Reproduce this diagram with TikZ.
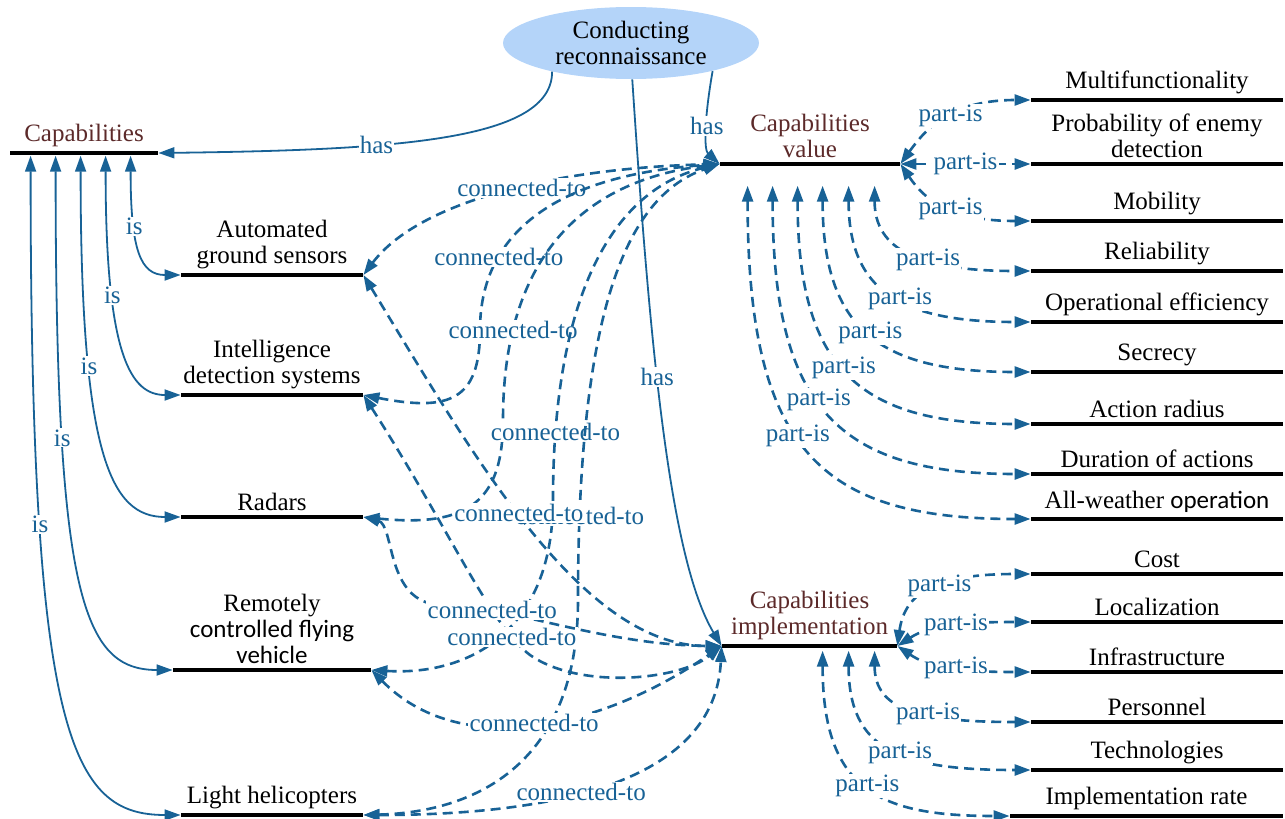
\documentclass[tikz,border=0pt]{standalone}
\usepackage{fontspec}
\usetikzlibrary{arrows.meta}
\usetikzlibrary{shapes.geometric}
\newcommand\serifface{\fontspec{Liberation Serif}}
\newcommand\calface{\fontspec{Carlito}}
\definecolor{linkblue}{RGB}{24,98,150}
\definecolor{capbrown}{RGB}{92,42,42}
\definecolor{ellfill}{RGB}{180,212,249}
\tikzset{%
    itembar/.style={inner sep=0pt,rectangle,fill=black,minimum height=2.3pt,minimum width=#1},
    txt/.style={align=center,inner sep=1.5pt,font=\serifface\fontsize{12.5}{13}\selectfont},
    lbl/.style={fill=white,inner sep=0.6pt,text=linkblue,font=\serifface\fontsize{12.5}{13}\selectfont}
}

\begin{document}
\begin{tikzpicture}[
                x=0.5pt,y=-0.5pt,
                hasarr/.style={linkblue,line width=0.9pt,-{Triangle[length=8pt,width=5.5pt]}},
                isarr/.style={linkblue,line width=0.9pt,{Triangle[length=8pt,width=5.5pt]}-{Triangle[length=8pt,width=5.5pt]}},
                ctarr/.style={linkblue,line width=1.3pt,dash pattern=on 5pt off 3pt,{Triangle[length=8pt,width=5.5pt]}-{Triangle[length=8pt,width=5.5pt]}}
            ]
            \useasboundingbox (0,0) rectangle (1285,819);
            \node[ellipse,fill=ellfill,minimum width=128pt,minimum height=36pt,inner sep=0pt,txt] (ell) at (631,43) {Conducting\\reconnaissance};

            \node[itembar=74pt,label={[txt,text=capbrown]above:{Capabilities}}] (cap) at (84,153){};
            \node[itembar=91pt,label={[txt]above:{Automated\\ground sensors}}] (ags) at (272,275){};
            \node[itembar=91pt,label={[txt]above:{Intelligence\\detection systems}}] (ids) at (272,395){};
            \node[itembar=91pt,label={[txt]above:{Radars}}] (rad) at (272,517){};
            \node[itembar=99pt,label={[txt]above:{Remotely\\{\calface controlled flying}\\{\calface vehicle}}}] (rcfv) at (272,670){};
            \node[itembar=91pt,label={[txt]above:{Light helicopters}}] (lh) at (272,815){};

            \node[itembar=90pt,label={[txt,text=capbrown]above:{Capabilities\\value}}] (val) at (810,164){};
            \node[itembar=87.5pt,label={[txt,text=capbrown]above:{Capabilities\\implementation}}] (imp) at (809.5,646){};

            \node[itembar=126pt,label={[txt]above:{Multifunctionality}}] (multi) at (1157,100){};
            \node[itembar=126pt,label={[txt]above:{Probability of enemy\\detection}}] (prob) at (1157,164){};
            \node[itembar=126pt,label={[txt]above:{Mobility}}] (mob) at (1157,221){};
            \node[itembar=126pt,label={[txt]above:{Reliability}}] (rel) at (1157,271){};
            \node[itembar=126pt,label={[txt]above:{Operational efficiency}}] (oper) at (1157,322){};
            \node[itembar=126pt,label={[txt]above:{Secrecy}}] (secr) at (1157,372){};
            \node[itembar=126pt,label={[txt]above:{Action radius}}] (act) at (1157,424){};
            \node[itembar=126pt,label={[txt]above:{Duration of actions}}] (dur) at (1157,474){};
            \node[itembar=126pt,label={[txt]above:{All-weather {\calface operation}}}] (allw) at (1157,519){};
            \node[itembar=126pt,label={[txt]above:{Cost}}] (cost) at (1157,574){};
            \node[itembar=126pt,label={[txt]above:{Localization}}] (loc) at (1157,622){};
            \node[itembar=126pt,label={[txt]above:{Infrastructure}}] (infr) at (1157,672){};
            \node[itembar=126pt,label={[txt]above:{Personnel}}] (pers) at (1157,722){};
            \node[itembar=126pt,label={[txt]above:{Technologies}}] (tech) at (1157,770){};
            \node[itembar=136.5pt,label={[txt]above:{Implementation rate}}] (rate) at (1146.5,816){};

            % has
            \draw[hasarr] (ell.-160) .. controls (552,140) and (400,150) .. node[lbl,pos=.65]{has} (cap.east);
            \draw[hasarr] (ell.-19) .. controls (704,120) and (704,150) .. node[lbl,pos=.45]{has} (val.west);
            \draw[hasarr] (ell.-88) .. controls (650,350) and (670,560) .. node[lbl,pos=.41]{has} (imp.west);

            % is
            \draw[isarr] ([shift={(121,0)}]cap.south west) .. controls +(0,95) and +(-40,0) .. node[lbl,pos=.32]{is} (ags.west);
            \draw[isarr] ([shift={(96,0)}]cap.south west) .. controls +(0,200) and +(-50,0) .. node[lbl,pos=.3]{is} (ids.west);
            \draw[isarr] ([shift={(71,0)}]cap.south west) .. controls +(0,300) and +(-70,0) .. node[lbl,pos=.3]{is} (rad.west);
            \draw[isarr] ([shift={(46,0)}]cap.south west) .. controls +(0,440) and +(-90,0) .. node[lbl,pos=.27]{is} (rcfv.west);
            \draw[isarr] ([shift={(21,0)}]cap.south west) .. controls +(0,580) and +(-110,0) .. node[lbl,pos=.27]{is} (lh.west);

            % connected-to, value
            \draw[ctarr] (ags.east) .. controls (420,200) and (560,168) .. node[lbl,pos=.55]{connected-to} (val.west);
            \draw[ctarr] (ids.east) .. controls (450,412) and (480,400) .. (480,330) .. controls (480,230) and (560,175) .. node[lbl,pos=.28]{connected-to} (val.west);
            \draw[ctarr] (rad.east) .. controls (470,528) and (503,500) .. (503,420) .. controls (503,250) and (590,180) .. node[lbl,pos=.2]{connected-to} (val.west);
            \draw[ctarr] (rcfv.east) .. controls (470,676) and (553,630) .. (553,500) .. controls (553,300) and (610,190) .. node[lbl,pos=.12]{connected-to} (val.west);
            \draw[ctarr] (lh.east) .. controls (480,812) and (578,760) .. (578,600) .. controls (578,300) and (630,195) .. node[lbl,pos=.1]{connected-to} (val.west);

            % connected-to, implementation
            \draw[ctarr] (ags.east) .. controls (470,450) and (580,646) .. node[lbl,pos=.47]{connected-to} (imp.west);
            \draw[ctarr] (ids.east) .. controls (450,530) and (490,625) .. node[lbl,pos=.85]{connected-to} (530,655) .. controls (580,690) and (680,680) .. (imp.west);
            \draw[ctarr] (rad.east) .. controls (395,525) and (385,602) .. (440,605) .. controls (500,603) and (600,645) .. node[lbl,pos=.25]{connected-to} (imp.west);
            \draw[ctarr] (rcfv.east) .. controls (460,760) and (600,730) .. node[lbl,pos=.5]{connected-to} (imp.west);
            \draw[ctarr] (lh.east) .. controls (560,815) and (715,780) .. node[lbl,pos=.42]{connected-to} (imp.west);

            % part-is, value
            \draw[ctarr] (val.east) .. controls (925,130) and (950,100) .. node[lbl,pos=.55]{part-is} (multi.west);
            \draw[ctarr] (val.east) -- node[lbl]{part-is} (prob.west);
            \draw[ctarr] (val.east) .. controls (925,200) and (950,221) .. node[lbl,pos=.55]{part-is} (mob.west);
            \draw[ctarr] ([shift={(155,19)}]val.south west) .. controls +(0,65) and +(-110,0) .. node[lbl,pos=.6]{part-is} (rel.west);
            \draw[ctarr] ([shift={(129,19)}]val.south west) .. controls +(0,105) and +(-130,0) .. node[lbl,pos=.55]{part-is} (oper.west);
            \draw[ctarr] ([shift={(103,19)}]val.south west) .. controls +(0,145) and +(-150,0) .. node[lbl,pos=.5]{part-is} (secr.west);
            \draw[ctarr] ([shift={(78,19)}]val.south west) .. controls +(0,185) and +(-170,0) .. node[lbl,pos=.47]{part-is} (act.west);
            \draw[ctarr] ([shift={(53,19)}]val.south west) .. controls +(0,225) and +(-190,0) .. node[lbl,pos=.45]{part-is} (dur.west);
            \draw[ctarr] ([shift={(28,19)}]val.south west) .. controls +(0,265) and +(-210,0) .. node[lbl,pos=.45]{part-is} (allw.west);

            % part-is, implementation
            \draw[ctarr] (imp.east) .. controls (905,590) and (940,574) .. node[lbl,pos=.55]{part-is} (cost.west);
            \draw[ctarr] (imp.east) .. controls (930,625) and (960,622) .. node[lbl,pos=.55]{part-is} (loc.west);
            \draw[ctarr] (imp.east) .. controls (930,668) and (960,672) .. node[lbl,pos=.55]{part-is} (infr.west);
            \draw[ctarr] ([shift={(153,2)}]imp.south west) .. controls +(0,60) and +(-110,0) .. node[lbl,pos=.6]{part-is} (pers.west);
            \draw[ctarr] ([shift={(127,2)}]imp.south west) .. controls +(0,100) and +(-130,0) .. node[lbl,pos=.55]{part-is} (tech.west);
            \draw[ctarr] ([shift={(101,2)}]imp.south west) .. controls +(0,140) and +(-130,0) .. node[lbl,pos=.5]{part-is} (rate.west);
        \end{tikzpicture}
\end{document}
